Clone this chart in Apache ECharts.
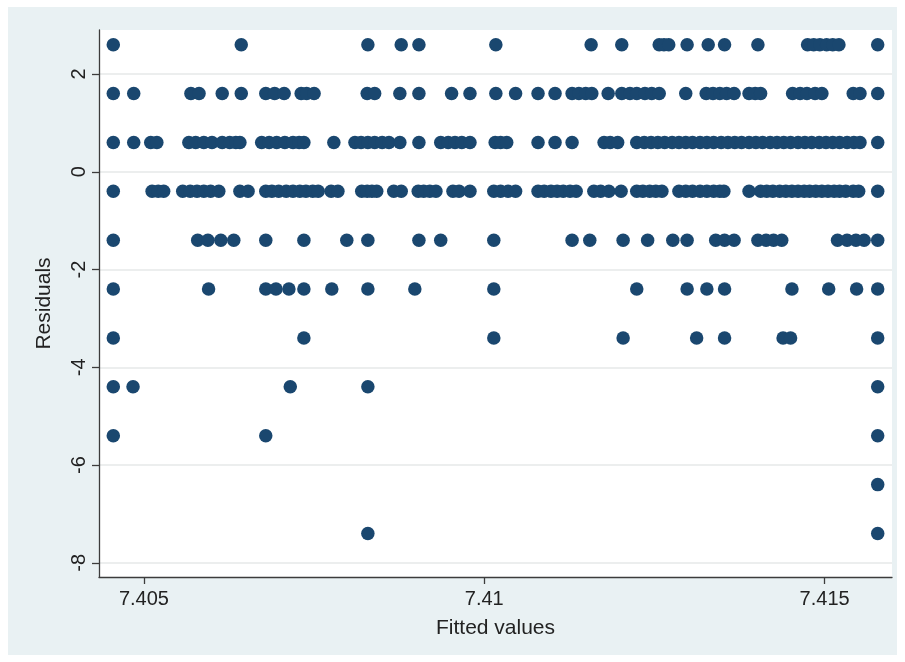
<!DOCTYPE html>
<html>
<head>
<meta charset="utf-8">
<script src="https://cdn.jsdelivr.net/npm/echarts@6/dist/echarts.min.js"></script>
<style>
  html, body { margin: 0; padding: 0; background: #ffffff; }
  #chart { width: 905px; height: 662px; }
</style>
</head>
<body>
<div id="chart"></div>
<script>
// Axis ticks
const xTicks = [7.405, 7.41, 7.415];
const yTicks = [-8, -6, -4, -2, 0, 2];

// Residual levels (the dependent variable is integer valued, so residuals fall on bands)
const residualLevels = [2.6, 1.6, 0.6, -0.4, -1.4, -2.4, -3.4, -4.4, -5.4, -6.4, -7.4];

// Fitted values of the observations in each residual band
const fittedAt_p2_6 = [7.40455, 7.40643, 7.40829, 7.40878, 7.40904, 7.41017, 7.41157, 7.41202, 7.41257, 7.41264,
  7.41271, 7.41298, 7.41329, 7.41353, 7.41402, 7.41475, 7.41484, 7.41493, 7.41503, 7.41512, 7.41521, 7.41578];

const fittedAt_p1_6 = [7.40455, 7.40485, 7.40569, 7.40581, 7.40615, 7.40643, 7.40679, 7.40692, 7.40706, 7.40731,
  7.40739, 7.40750, 7.40828, 7.40839, 7.40876, 7.40904, 7.40952, 7.40979, 7.41017, 7.41046, 7.41079, 7.41104,
  7.41129, 7.41139, 7.41149, 7.41158, 7.41182, 7.41202, 7.41214, 7.41224, 7.41236, 7.41246, 7.41257, 7.41296,
  7.41326, 7.41336, 7.41346, 7.41356, 7.41367, 7.41389, 7.41398, 7.41406, 7.41453, 7.41464, 7.41474, 7.41486,
  7.41496, 7.41542, 7.41552, 7.41578];

const fittedAt_p0_6 = [7.40455, 7.40485, 7.40510, 7.40519, 7.40566, 7.40576, 7.40588, 7.40600, 7.40615, 7.40626,
  7.40635, 7.40641, 7.40673, 7.40684, 7.40695, 7.40707, 7.40719, 7.40728, 7.40735, 7.40779, 7.40810, 7.40819,
  7.40829, 7.40839, 7.40850, 7.40860, 7.40876, 7.40904, 7.40936, 7.40947, 7.40957, 7.40967, 7.40979, 7.41016,
  7.41024, 7.41033, 7.41079, 7.41104, 7.41129, 7.41176, 7.41185, 7.41196, 7.41224, 7.41235, 7.41245, 7.41255,
  7.41265, 7.41276, 7.41286, 7.41296, 7.41306, 7.41317, 7.41327, 7.41337, 7.41348, 7.41358, 7.41368, 7.41378,
  7.41389, 7.41399, 7.41409, 7.41420, 7.41430, 7.41440, 7.41450, 7.41461, 7.41471, 7.41481, 7.41492, 7.41502,
  7.41512, 7.41522, 7.41533, 7.41543, 7.41552, 7.41578];

const fittedAt_m0_4 = [7.40455, 7.40512, 7.40521, 7.40529, 7.40557, 7.40568, 7.40578, 7.40588, 7.40598, 7.40610,
  7.40641, 7.40653, 7.40679, 7.40688, 7.40698, 7.40709, 7.40719, 7.40729, 7.40738, 7.40748, 7.40756, 7.40775,
  7.40785, 7.40820, 7.40828, 7.40835, 7.40842, 7.40867, 7.40878, 7.40903, 7.40911, 7.40920, 7.40929, 7.40954,
  7.40963, 7.40979, 7.41014, 7.41024, 7.41035, 7.41046, 7.41079, 7.41088, 7.41098, 7.41107, 7.41116, 7.41126,
  7.41135, 7.41161, 7.41171, 7.41183, 7.41201, 7.41224, 7.41233, 7.41243, 7.41252, 7.41261, 7.41286, 7.41296,
  7.41306, 7.41317, 7.41327, 7.41337, 7.41346, 7.41352, 7.41389, 7.41406, 7.41415, 7.41424, 7.41434, 7.41443,
  7.41452, 7.41461, 7.41470, 7.41478, 7.41487, 7.41496, 7.41505, 7.41514, 7.41522, 7.41531, 7.41542, 7.41550,
  7.41578];

const fittedAt_m1_4 = [7.40455, 7.40579, 7.40594, 7.40613, 7.40632, 7.40679, 7.40735, 7.40798, 7.40829, 7.40904,
  7.40936, 7.41014, 7.41129, 7.41155, 7.41204, 7.41240, 7.41277, 7.41298, 7.41340, 7.41353, 7.41367, 7.41402,
  7.41414, 7.41425, 7.41437, 7.41519, 7.41533, 7.41546, 7.41558, 7.41578];

const fittedAt_m2_4 = [7.40455, 7.40595, 7.40679, 7.40694, 7.40713, 7.40735, 7.40776, 7.40829, 7.40898, 7.41014,
  7.41224, 7.41298, 7.41327, 7.41353, 7.41452, 7.41506, 7.41547, 7.41578];

const fittedAt_m3_4 = [7.40455, 7.40735, 7.41014, 7.41204, 7.41312, 7.41353, 7.41439, 7.41450, 7.41578];

const fittedAt_m4_4 = [7.40455, 7.40484, 7.40715, 7.40829, 7.41578];

const fittedAt_m5_4 = [7.40455, 7.40679, 7.41578];

const fittedAt_m6_4 = [7.41578];

const fittedAt_m7_4 = [7.40829, 7.41578];

const fittedByLevel = [fittedAt_p2_6, fittedAt_p1_6, fittedAt_p0_6, fittedAt_m0_4, fittedAt_m1_4, fittedAt_m2_4,
  fittedAt_m3_4, fittedAt_m4_4, fittedAt_m5_4, fittedAt_m6_4, fittedAt_m7_4];

// (fitted, residual) pairs for the scatter
const points = [];
residualLevels.forEach((r, i) => {
  fittedByLevel[i].forEach(f => points.push([f, r]));
});

const FONT = '"Liberation Sans", Arial, Helvetica, sans-serif';
const INK = '#222222';
const AXIS = '#3c3c3c';

const chart = echarts.init(document.getElementById('chart'), null, { renderer: 'canvas' });

chart.setOption({
  animation: false,
  backgroundColor: '#ffffff',
  textStyle: { fontFamily: FONT },
  graphic: [{
    type: 'rect',
    z: -10,
    silent: true,
    shape: { x: 8, y: 7, width: 889, height: 648 },
    style: { fill: '#e9f1f3' }
  }],
  grid: {
    left: 99, right: 13, top: 30, bottom: 85,
    show: true,
    backgroundColor: '#ffffff',
    borderWidth: 0
  },
  xAxis: {
    type: 'value',
    min: 7.40434,
    max: 7.41599,
    name: 'Fitted values',
    nameLocation: 'middle',
    nameGap: 41,
    nameTextStyle: { fontSize: 21, color: INK, fontFamily: FONT },
    axisLine: { show: true, onZero: false, lineStyle: { color: AXIS, width: 1.3 } },
    axisTick: { show: true, length: 7, customValues: xTicks, lineStyle: { color: AXIS, width: 1.3 } },
    axisLabel: {
      customValues: xTicks,
      formatter: v => String(Number(v.toFixed(4))),
      fontSize: 20,
      color: INK,
      fontFamily: FONT,
      margin: 12
    },
    splitLine: { show: false }
  },
  yAxis: {
    type: 'value',
    min: -8.29,
    max: 2.9,
    name: 'Residuals',
    nameLocation: 'middle',
    nameRotate: 90,
    nameGap: 44,
    nameTextStyle: { fontSize: 21, color: INK, fontFamily: FONT },
    axisLine: { show: true, onZero: false, lineStyle: { color: AXIS, width: 1.3 } },
    axisTick: { show: true, length: 7, customValues: yTicks, lineStyle: { color: AXIS, width: 1.3 } },
    axisLabel: {
      customValues: yTicks,
      rotate: 90,
      fontSize: 20,
      color: INK,
      fontFamily: FONT,
      margin: 10
    },
    splitLine: { show: true, lineStyle: { color: '#e6e8e8', width: 1.5 } }
  },
  series: [{
    type: 'scatter',
    data: points,
    symbol: 'circle',
    symbolSize: 13.5,
    itemStyle: { color: '#1a476f', opacity: 1 },
    clip: false
  }]
});
</script>
</body>
</html>
